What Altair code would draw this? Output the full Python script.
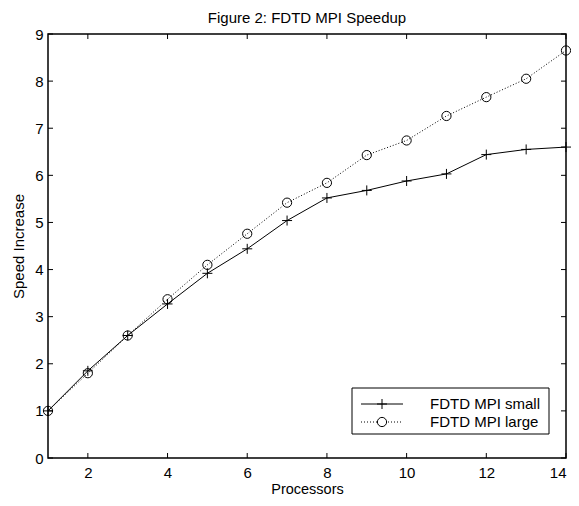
import altair as alt
import pandas as pd

# ---- data ----
procs = [1, 2, 3, 4, 5, 6, 7, 8, 9, 10, 11, 12, 13, 14]
small = [1.0, 1.85, 2.6, 3.27, 3.92, 4.44, 5.04, 5.52, 5.68, 5.88, 6.03, 6.44, 6.55, 6.60]
large = [1.0, 1.80, 2.6, 3.37, 4.10, 4.76, 5.42, 5.84, 6.43, 6.74, 7.26, 7.66, 8.05, 8.65]
series_names = ["FDTD MPI small", "FDTD MPI large"]
x_ticks = [2, 4, 6, 8, 10, 12, 14]
y_ticks = [0, 1, 2, 3, 4, 5, 6, 7, 8, 9]

W, H = 518, 424
FONT = "Liberation Sans"
FS = 15
PLUS = "M-1,0L1,0M0,-1L0,1"

df_small = pd.DataFrame({"p": procs, "v": small})
df_large = pd.DataFrame({"p": procs, "v": large})
df_xt = pd.DataFrame({"t": x_ticks})
df_yt = pd.DataFrame({"t": y_ticks})

xs = alt.Scale(domain=[1, 14], nice=False, zero=False)
ys = alt.Scale(domain=[0, 9], nice=False, zero=False)

xax = alt.Axis(values=x_ticks, ticks=False, tickSize=0, domain=False, grid=False,
               labelPadding=7, title="Processors", titlePadding=2,
               labelFont=FONT, labelFontSize=FS, titleFont=FONT, titleFontSize=14.5,
               titleFontWeight="normal", labelColor="black", titleColor="black")
yax = alt.Axis(values=y_ticks, ticks=False, tickSize=0, domain=False, grid=False,
               labelPadding=5, title="Speed Increase", titlePadding=8,
               labelFont=FONT, labelFontSize=FS, titleFont=FONT, titleFontSize=FS,
               titleFontWeight="normal", labelColor="black", titleColor="black")

base_s = alt.Chart(df_small)
base_l = alt.Chart(df_large)

line_s = base_s.mark_line(color="black", strokeWidth=1).encode(
    x=alt.X("p:Q", scale=xs, axis=xax), y=alt.Y("v:Q", scale=ys, axis=yax))
pts_s = base_s.mark_point(shape=PLUS, size=100, color="black", filled=False,
                          strokeWidth=1, opacity=1).encode(
    x=alt.X("p:Q", scale=xs), y=alt.Y("v:Q", scale=ys))
line_l = base_l.mark_line(color="black", strokeWidth=1, strokeDash=[1, 2]).encode(
    x=alt.X("p:Q", scale=xs), y=alt.Y("v:Q", scale=ys))
pts_l = base_l.mark_point(shape="circle", size=85, color="black", filled=False,
                          strokeWidth=1, opacity=1).encode(
    x=alt.X("p:Q", scale=xs), y=alt.Y("v:Q", scale=ys))

# inward ticks on all four sides
tk = 5
xt_bot = alt.Chart(df_xt).mark_rule(color="black", strokeWidth=1).encode(
    x=alt.X("t:Q", scale=xs), y=alt.value(H), y2=alt.value(H - tk))
xt_top = alt.Chart(df_xt).mark_rule(color="black", strokeWidth=1).encode(
    x=alt.X("t:Q", scale=xs), y=alt.value(0), y2=alt.value(tk))
yt_l = alt.Chart(df_yt).mark_rule(color="black", strokeWidth=1).encode(
    y=alt.Y("t:Q", scale=ys), x=alt.value(0), x2=alt.value(tk))
yt_r = alt.Chart(df_yt).mark_rule(color="black", strokeWidth=1).encode(
    y=alt.Y("t:Q", scale=ys), x=alt.value(W - tk), x2=alt.value(W))

# legend (manual, MATLAB style)
LX0, LX1, LY0, LY1 = 304, 501, 354, 400
ROW1, ROW2 = 370, 388
one = pd.DataFrame({"a": [0]})
leg_box = alt.Chart(one).mark_rect(fill="white", stroke="black", strokeWidth=1).encode(
    x=alt.value(LX0), x2=alt.value(LX1), y=alt.value(LY0), y2=alt.value(LY1))
leg_l1 = alt.Chart(one).mark_rule(color="black", strokeWidth=1).encode(
    x=alt.value(313), x2=alt.value(355), y=alt.value(ROW1))
leg_p1 = alt.Chart(one).mark_point(shape=PLUS, size=100, color="black", filled=False,
                                   strokeWidth=1, opacity=1).encode(
    x=alt.value(334), y=alt.value(ROW1))
leg_l2 = alt.Chart(one).mark_rule(color="black", strokeWidth=1, strokeDash=[1, 2]).encode(
    x=alt.value(313), x2=alt.value(355), y=alt.value(ROW2))
leg_p2 = alt.Chart(one).mark_point(shape="circle", size=85, color="black", filled=False,
                                   strokeWidth=1, opacity=1, fill="white").encode(
    x=alt.value(334), y=alt.value(ROW2))
leg_t1 = alt.Chart(pd.DataFrame({"name": [series_names[0]]})).mark_text(
    align="left", baseline="middle", font=FONT, fontSize=FS, color="black").encode(
    x=alt.value(382), y=alt.value(ROW1), text="name:N")
leg_t2 = alt.Chart(pd.DataFrame({"name": [series_names[1]]})).mark_text(
    align="left", baseline="middle", font=FONT, fontSize=FS, color="black").encode(
    x=alt.value(382), y=alt.value(ROW2), text="name:N")

chart = alt.layer(
    line_s, line_l, pts_s, pts_l, xt_bot, xt_top, yt_l, yt_r,
    leg_box, leg_l1, leg_p1, leg_l2, leg_p2, leg_t1, leg_t2
).properties(
    width=W, height=H,
    title=alt.TitleParams("Figure 2: FDTD MPI Speedup", font=FONT, fontSize=FS,
                          fontWeight="normal", color="black", offset=1, anchor="middle"),
    autosize=alt.AutoSizeParams(type="none"),
    padding={"left": 40, "top": 26, "right": 5, "bottom": 40},
    background="white",
).configure_view(stroke="black", strokeWidth=1.5)

chart.save("out.html", embed_options={"renderer": "svg", "actions": False})
